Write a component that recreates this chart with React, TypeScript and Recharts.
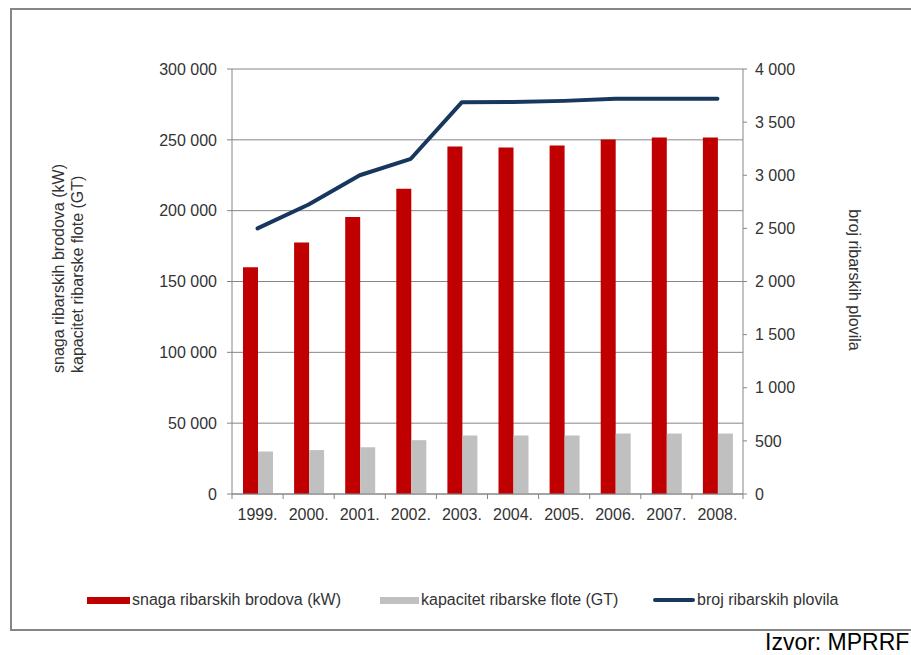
import React from 'react';
import { ComposedChart, Bar, Line, XAxis, YAxis, CartesianGrid, Legend } from 'recharts';

const years = ['1999.', '2000.', '2001.', '2002.', '2003.', '2004.', '2005.', '2006.', '2007.', '2008.'];
const snagaKW = [160000, 177500, 195500, 215500, 245300, 244600, 246000, 250300, 251600, 251600];
const kapacitetGT = [30000, 31000, 33000, 38000, 41300, 41300, 41300, 42700, 42700, 42700];
const brojPlovila = [2500, 2725, 3000, 3155, 3688, 3690, 3700, 3719, 3720, 3720];
const leftTicks = [0, 50000, 100000, 150000, 200000, 250000, 300000];
const rightTicks = [0, 500, 1000, 1500, 2000, 2500, 3000, 3500, 4000];

const seriesNames = {
  snaga: 'snaga ribarskih brodova (kW)',
  kapacitet: 'kapacitet ribarske flote (GT)',
  broj: 'broj ribarskih plovila',
};
const legendOrder = ['snaga', 'kapacitet', 'broj'];

const data = years.map((y, i) => ({
  year: y,
  snaga: snagaKW[i],
  kapacitet: kapacitetGT[i],
  broj: brojPlovila[i],
}));

const FONT = "'Liberation Sans', Arial, sans-serif";
const TEXT = '#333333';
const AXIS = '#868686';

const fmt = (v: number) => String(v).replace(/\B(?=(\d{3})+(?!\d))/g, ' ');

const XTick = (props: any) => {
  const { x, y, payload, index, visibleTicksCount, width } = props;
  const half = width / visibleTicksCount / 2;
  const axisY = y - 13;
  return (
    <g>
      <line x1={x - half} x2={x - half} y1={axisY} y2={axisY + 5} stroke={AXIS} strokeWidth={1} />
      {index === visibleTicksCount - 1 && (
        <line x1={x + half} x2={x + half} y1={axisY} y2={axisY + 5} stroke={AXIS} strokeWidth={1} />
      )}
      <text x={x} y={y + 12.5} textAnchor="middle" fontSize={16} fontFamily={FONT} fill={TEXT}>
        {payload.value}
      </text>
    </g>
  );
};

const LeftTitle = () => (
  <g>
    <text x={64} y={373} transform="rotate(-90 64 373)" textAnchor="start" fontSize={16} fontFamily={FONT} fill={TEXT}>
      {seriesNames.snaga}
    </text>
    <text x={83} y={373} transform="rotate(-90 83 373)" textAnchor="start" fontSize={16} fontFamily={FONT} fill={TEXT}>
      {seriesNames.kapacitet}
    </text>
  </g>
);

const RightTitle = () => (
  <text x={849} y={280} transform="rotate(90 849 280)" textAnchor="middle" fontSize={16} fontFamily={FONT} fill={TEXT}>
    {seriesNames.broj}
  </text>
);

const legendLefts = [87, 380, 653];

const LegendContent = (props: any) => {
  const payload = [...(props.payload || [])].sort(
    (a: any, b: any) => legendOrder.indexOf(a.dataKey) - legendOrder.indexOf(b.dataKey)
  );
  return (
    <div style={{ position: 'relative', width: 911, height: 20 }}>
      {payload.map((entry: any, i: number) => {
        const isLine = entry.dataKey === 'broj';
        return (
          <div
            key={i}
            style={{
              position: 'absolute',
              left: legendLefts[i],
              top: 0,
              height: 20,
              display: 'flex',
              alignItems: 'center',
              whiteSpace: 'nowrap',
            }}
          >
            {isLine ? (
              <span style={{ display: 'inline-block', width: 42, height: 4, borderRadius: 2, background: entry.color }} />
            ) : (
              <span style={{ display: 'inline-block', width: i === 0 ? 43 : 39, height: 7, background: entry.color }} />
            )}
            <span style={{ marginLeft: 2, fontSize: 16, fontFamily: FONT, color: TEXT }}>{entry.value}</span>
          </div>
        );
      })}
    </div>
  );
};

export default function App() {
  return (
    <div style={{ position: 'absolute', left: 0, top: 0, width: 911, height: 655, overflow: 'hidden', background: '#fff' }}>
      <div
        style={{
          position: 'absolute',
          left: 10,
          top: 8,
          width: 930,
          height: 623,
          boxSizing: 'border-box',
          border: `2px solid ${AXIS}`,
        }}
      />
      <div style={{ position: 'absolute', left: 0, top: 0 }}>
        <ComposedChart
          width={911}
          height={655}
          data={data}
          margin={{ top: 69, right: 0, bottom: 131, left: 0 }}
          barGap={0}
        >
          <CartesianGrid yAxisId="left" vertical={false} horizontal stroke={AXIS} strokeWidth={1} />
          <XAxis
            dataKey="year"
            height={30}
            axisLine={{ stroke: AXIS, strokeWidth: 1 }}
            tickLine={false}
            tickSize={5}
            tickMargin={8}
            tick={<XTick />}
            interval={0}
          />
          <YAxis
            yAxisId="left"
            width={232}
            domain={[0, 300000]}
            ticks={leftTicks}
            tickFormatter={fmt}
            axisLine={{ stroke: AXIS, strokeWidth: 1 }}
            tickLine={{ stroke: AXIS, strokeWidth: 1 }}
            tickSize={5}
            tickMargin={10}
            tick={{ fontSize: 16, fontFamily: FONT, fill: TEXT }}
            label={<LeftTitle />}
            allowDataOverflow
          />
          <YAxis
            yAxisId="right"
            orientation="right"
            width={168}
            domain={[0, 4000]}
            ticks={rightTicks}
            tickFormatter={fmt}
            axisLine={{ stroke: AXIS, strokeWidth: 1 }}
            tickLine={{ stroke: AXIS, strokeWidth: 1 }}
            tickSize={4}
            tickMargin={8}
            tick={{ fontSize: 16, fontFamily: FONT, fill: TEXT }}
            label={<RightTitle />}
            allowDataOverflow
          />
          <Bar yAxisId="left" dataKey="snaga" name={seriesNames.snaga} fill="#C00000" barSize={15} isAnimationActive={false} />
          <Bar yAxisId="left" dataKey="kapacitet" name={seriesNames.kapacitet} fill="#C0C0C0" barSize={15} isAnimationActive={false} />
          <Line
            yAxisId="right"
            type="linear"
            dataKey="broj"
            name={seriesNames.broj}
            stroke="#17375E"
            strokeWidth={4}
            strokeLinecap="round"
            strokeLinejoin="round"
            dot={false}
            activeDot={false}
            isAnimationActive={false}
          />
          <Legend
            layout="horizontal"
            verticalAlign="middle"
            align="center"
            wrapperStyle={{ top: 590, left: 0, width: 911, height: 20 }}
            content={<LegendContent />}
          />
        </ComposedChart>
      </div>
      <div
        style={{
          position: 'absolute',
          left: 765,
          top: 631,
          fontSize: 23,
          lineHeight: '23px',
          fontFamily: FONT,
          color: '#000',
          whiteSpace: 'nowrap',
        }}
      >
        Izvor: MPRRF
      </div>
    </div>
  );
}
